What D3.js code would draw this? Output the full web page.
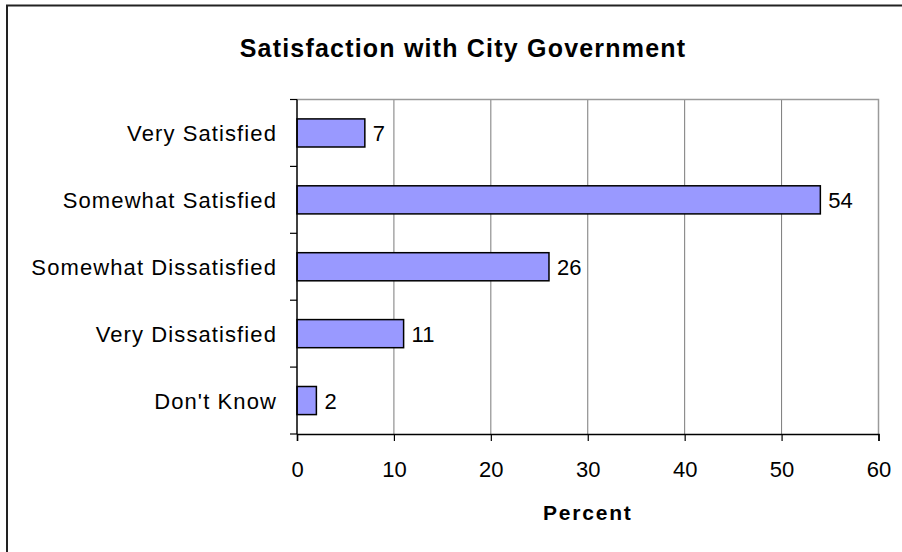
<!DOCTYPE html>
<html>
<head>
<meta charset="utf-8">
<script src="https://cdn.jsdelivr.net/npm/d3@7"></script>
<style>
  html, body { margin: 0; padding: 0; background: #fff; }
  svg { display: block; }
  text { font-family: "Liberation Sans", Arial, sans-serif; fill: #000; }
</style>
</head>
<body>
<script>
const categories = ["Very Satisfied", "Somewhat Satisfied", "Somewhat Dissatisfied", "Very Dissatisfied", "Don't Know"];
const values = [7, 54, 26, 11, 2];
const xTicks = [0, 10, 20, 30, 40, 50, 60];
const titleText = "Satisfaction with City Government";
const xAxisTitle = "Percent";

const W = 902, H = 552;
const plot = { left: 297, right: 878.5, top: 99.5, bottom: 434 };

const svg = d3.select("body").append("svg").attr("width", W).attr("height", H);

// outer chart border (extends beyond right/bottom edges)
svg.append("path")
  .attr("d", `M7,${H + 5} V5.5 H${W + 5}`)
  .attr("fill", "none").attr("stroke", "#222").attr("stroke-width", 2);

const x = d3.scaleLinear().domain([0, 60]).range([plot.left, plot.right]);
const y = d3.scaleBand().domain(categories).range([plot.top, plot.bottom]).paddingInner(0).paddingOuter(0);
const barH = y.bandwidth() * 0.42;

// gridlines
svg.append("g").selectAll("line").data(xTicks.filter(d => d > 0 && d < 60)).join("line")
  .attr("x1", d => x(d)).attr("x2", d => x(d))
  .attr("y1", plot.top).attr("y2", plot.bottom)
  .attr("stroke", "#7a7a7a").attr("stroke-width", 1);

// plot area top and right border
svg.append("path")
  .attr("d", `M${plot.left},${plot.top} H${plot.right} V${plot.bottom}`)
  .attr("fill", "none").attr("stroke", "#9a9a9a").attr("stroke-width", 1.5);

// bars
svg.append("g").selectAll("rect").data(categories).join("rect")
  .attr("x", x(0))
  .attr("y", (d) => y(d) + (y.bandwidth() - barH) / 2)
  .attr("width", (d, i) => x(values[i]) - x(0))
  .attr("height", barH)
  .attr("fill", "#9999FF")
  .attr("stroke", "#000").attr("stroke-width", 1.5);

// value labels
svg.append("g").selectAll("text").data(categories).join("text")
  .attr("x", (d, i) => x(values[i]) + 8)
  .attr("y", d => y(d) + y.bandwidth() / 2 + 8)
  .attr("font-size", 22)
  .text((d, i) => values[i]);

// y axis
const yAxisG = svg.append("g").attr("transform", `translate(${plot.left},0)`);
yAxisG.append("line").attr("x1", 0).attr("x2", 0).attr("y1", plot.top).attr("y2", plot.bottom)
  .attr("stroke", "#000").attr("stroke-width", 1.5);
const yBounds = categories.map(c => y(c)).concat([plot.bottom]);
yAxisG.selectAll("line.tick").data(yBounds).join("line").attr("class", "tick")
  .attr("x1", -7).attr("x2", 0).attr("y1", d => d).attr("y2", d => d)
  .attr("stroke", "#000").attr("stroke-width", 1.2);
yAxisG.selectAll("text").data(categories).join("text")
  .attr("x", -20)
  .attr("y", d => y(d) + y.bandwidth() / 2 + 8)
  .attr("text-anchor", "end")
  .attr("font-size", 22)
  .attr("letter-spacing", 1.1)
  .text(d => d);

// x axis
const xAxis = d3.axisBottom(x).tickValues(xTicks).tickSize(7).tickPadding(10).tickFormat(d3.format("d"));
const xAxisG = svg.append("g").attr("transform", `translate(0,${plot.bottom})`).call(xAxis);
xAxisG.select(".domain").attr("stroke", "#000").attr("stroke-width", 1.5);
xAxisG.selectAll(".tick line").attr("stroke", "#000").attr("stroke-width", 1.2);
xAxisG.selectAll(".tick text")
  .attr("font-size", 22)
  .attr("font-family", "'Liberation Sans', Arial, sans-serif")
  .attr("fill", "#000")
  .attr("dy", null)
  .attr("y", 43);

// axis title
svg.append("text")
  .attr("x", (plot.left + plot.right) / 2)
  .attr("y", 520)
  .attr("text-anchor", "middle")
  .attr("font-size", 21)
  .attr("font-weight", "bold")
  .attr("letter-spacing", 1.8)
  .text(xAxisTitle);

// chart title
svg.append("text")
  .attr("x", 463)
  .attr("y", 57)
  .attr("text-anchor", "middle")
  .attr("font-size", 25)
  .attr("font-weight", "bold")
  .attr("letter-spacing", 1.2)
  .text(titleText);
</script>
</body>
</html>
